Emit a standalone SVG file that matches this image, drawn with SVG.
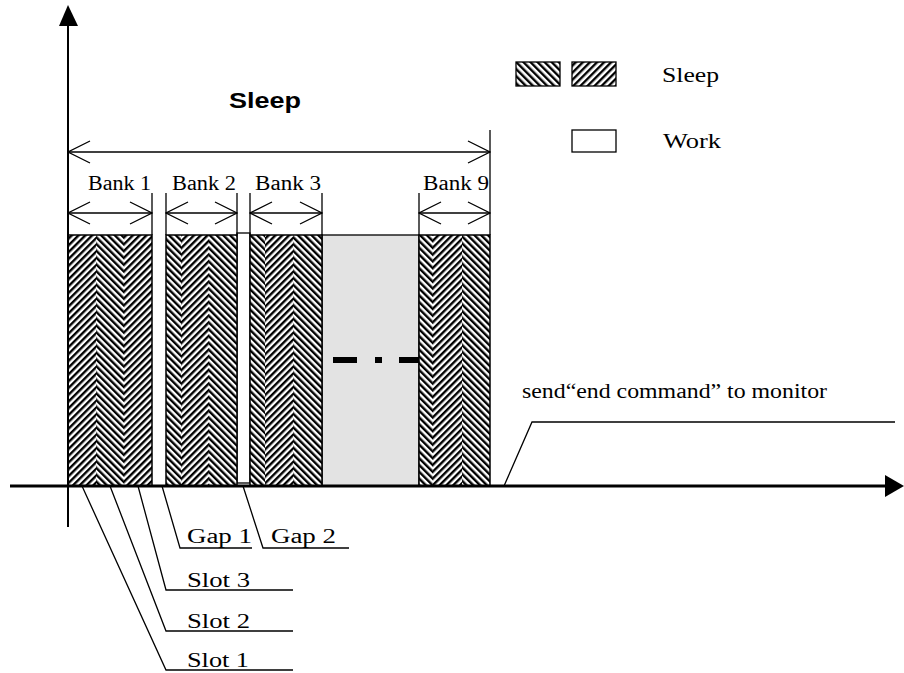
<svg xmlns="http://www.w3.org/2000/svg" width="904" height="673" viewBox="0 0 904 673">
<style>
.t{font-family:"Liberation Serif","Times New Roman",serif;font-size:20px;fill:#000}
.b{font-family:"Liberation Sans",Arial,sans-serif;font-size:22px;font-weight:bold;fill:#000}
.ln{stroke:#000;stroke-width:1.3;fill:none}
.bar{stroke:#000;stroke-width:1.5}
</style>
<defs>
<pattern id="fw" patternUnits="userSpaceOnUse" width="4.8" height="4.8" patternTransform="rotate(45)"><rect width="4.8" height="4.8" fill="#fff"/><rect width="2.4" height="4.8" fill="#000"/></pattern>
<pattern id="bw" patternUnits="userSpaceOnUse" width="4.8" height="4.8" patternTransform="rotate(-45)"><rect width="4.8" height="4.8" fill="#fff"/><rect width="2.4" height="4.8" fill="#000"/></pattern>
<pattern id="lf" patternUnits="userSpaceOnUse" width="5" height="5" patternTransform="rotate(45)"><rect width="5" height="5" fill="#fff"/><rect width="2.4" height="5" fill="#000"/></pattern>
<pattern id="lb" patternUnits="userSpaceOnUse" width="5" height="5" patternTransform="rotate(-45)"><rect width="5" height="5" fill="#fff"/><rect width="2.4" height="5" fill="#000"/></pattern>
<marker id="oa" viewBox="0 0 24 24" refX="23" refY="12" markerUnits="userSpaceOnUse" markerWidth="24" markerHeight="24" orient="auto-start-reverse"><path d="M1,1 L23,12 L1,23" fill="none" stroke="#000" stroke-width="1.3"/></marker>
</defs>
<rect width="904" height="673" fill="#fff"/>

<g id="grey-region">
<rect x="322" y="235" width="97" height="251" fill="#e3e3e3" stroke="#000" stroke-width="1.3"/>
<g fill="#000">
<rect x="333" y="357" width="24" height="6"/>
<rect x="375" y="357" width="7" height="6"/>
<rect x="399" y="357" width="20" height="6"/>
</g>
</g>

<g id="gap2">
<rect x="237" y="233" width="13" height="250" fill="#fff" stroke="#000" stroke-width="1.3"/>
</g>

<g id="bank1">
<rect x="68" y="235" width="28" height="251" fill="url(#fw)"/>
<rect x="96" y="235" width="28" height="251" fill="url(#bw)"/>
<rect x="124" y="235" width="28" height="251" fill="url(#fw)"/>
<rect class="bar" x="68" y="235" width="84" height="251" fill="none"/>
</g>
<g id="bank2">
<rect x="166" y="235" width="15" height="251" fill="url(#bw)"/>
<rect x="181" y="235" width="28" height="251" fill="url(#fw)"/>
<rect x="209" y="235" width="28" height="251" fill="url(#bw)"/>
<rect class="bar" x="166" y="235" width="71" height="251" fill="none"/>
</g>
<g id="bank3">
<rect x="250" y="235" width="15" height="251" fill="url(#bw)"/>
<rect x="265" y="235" width="28" height="251" fill="url(#fw)"/>
<rect x="293" y="235" width="29" height="251" fill="url(#bw)"/>
<rect class="bar" x="250" y="235" width="72" height="251" fill="none"/>
</g>
<g id="bank9">
<rect x="419" y="235" width="14" height="251" fill="url(#bw)"/>
<rect x="433" y="235" width="29" height="251" fill="url(#fw)"/>
<rect x="462" y="235" width="28" height="251" fill="url(#bw)"/>
<rect class="bar" x="419" y="235" width="71" height="251" fill="none"/>
</g>

<g id="axes">
<line x1="68" y1="24" x2="68" y2="527" stroke="#000" stroke-width="2"/>
<polygon points="59,26 68,5 78,26" fill="#000"/>
<line x1="10" y1="486" x2="886" y2="486" stroke="#000" stroke-width="3"/>
<polygon points="885,475 904,486 885,497" fill="#000"/>
</g>

<g id="connectors">
<line class="ln" x1="68" y1="152" x2="490" y2="152" marker-start="url(#oa)" marker-end="url(#oa)"/>
<line class="ln" x1="490" y1="130" x2="490" y2="235"/>
<line class="ln" x1="68" y1="213" x2="152" y2="213" marker-start="url(#oa)" marker-end="url(#oa)"/>
<line class="ln" x1="166" y1="213" x2="237" y2="213" marker-start="url(#oa)" marker-end="url(#oa)"/>
<line class="ln" x1="250" y1="213" x2="322" y2="213" marker-start="url(#oa)" marker-end="url(#oa)"/>
<line class="ln" x1="419" y1="213" x2="490" y2="213" marker-start="url(#oa)" marker-end="url(#oa)"/>
<line class="ln" x1="152" y1="193" x2="152" y2="235"/>
<line class="ln" x1="166" y1="193" x2="166" y2="235"/>
<line class="ln" x1="237" y1="193" x2="237" y2="235"/>
<line class="ln" x1="250" y1="193" x2="250" y2="235"/>
<line class="ln" x1="322" y1="193" x2="322" y2="235"/>
<line class="ln" x1="419" y1="193" x2="419" y2="235"/>
<polyline class="ln" points="504,486 532,422 895,422"/>
<polyline class="ln" points="162,486 180,548 252,548"/>
<polyline class="ln" points="243,486 263,548 349,548"/>
<polyline class="ln" points="138,486 166,590 293,590"/>
<polyline class="ln" points="110,486 166,631 293,631"/>
<polyline class="ln" points="82,486 166,670 293,670"/>
</g>

<g id="legend">
<rect x="516" y="62" width="44" height="24" fill="url(#lb)" stroke="#000" stroke-width="1.3"/>
<rect x="572" y="62" width="44" height="24" fill="url(#lf)" stroke="#000" stroke-width="1.3"/>
<rect x="572" y="130" width="44" height="22" fill="#fff" stroke="#000" stroke-width="1.3"/>
<text class="t" x="662" y="82" textLength="57" lengthAdjust="spacingAndGlyphs">Sleep</text>
<text class="t" x="663" y="148" textLength="58" lengthAdjust="spacingAndGlyphs">Work</text>
</g>

<g id="labels">
<text class="b" x="229" y="108" textLength="72" lengthAdjust="spacingAndGlyphs">Sleep</text>
<text class="t" x="88" y="190" textLength="63" lengthAdjust="spacingAndGlyphs">Bank 1</text>
<text class="t" x="172" y="190" textLength="64" lengthAdjust="spacingAndGlyphs">Bank 2</text>
<text class="t" x="255" y="190" textLength="66" lengthAdjust="spacingAndGlyphs">Bank 3</text>
<text class="t" x="423" y="190" textLength="66" lengthAdjust="spacingAndGlyphs">Bank 9</text>
<text class="t" x="522" y="398" textLength="305" lengthAdjust="spacingAndGlyphs">send“end command” to monitor</text>
<text class="t" x="187" y="543" textLength="65" lengthAdjust="spacingAndGlyphs">Gap 1</text>
<text class="t" x="271" y="543" textLength="65" lengthAdjust="spacingAndGlyphs">Gap 2</text>
<text class="t" x="187" y="587" textLength="63" lengthAdjust="spacingAndGlyphs">Slot 3</text>
<text class="t" x="187" y="628" textLength="63" lengthAdjust="spacingAndGlyphs">Slot 2</text>
<text class="t" x="187" y="667" textLength="62" lengthAdjust="spacingAndGlyphs">Slot 1</text>
</g>
</svg>
